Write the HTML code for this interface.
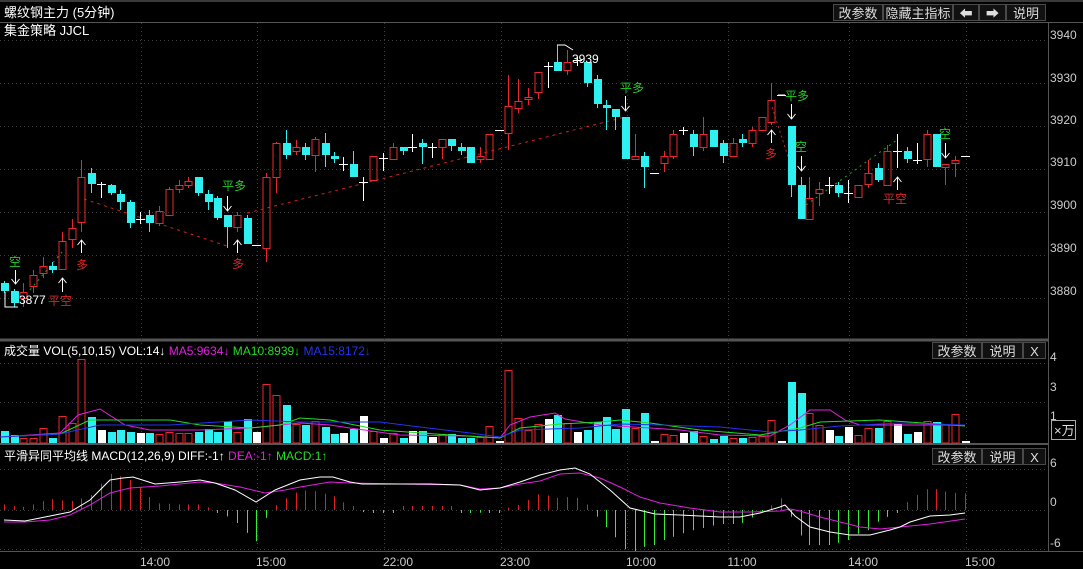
<!DOCTYPE html>
<html><head><meta charset="utf-8">
<style>
html,body{margin:0;padding:0;background:#000;}
body{width:1083px;height:569px;overflow:hidden;position:relative;font-family:"Liberation Sans","Noto Sans CJK SC",sans-serif;}
svg{position:absolute;left:0;top:0;}
.btn{position:absolute;height:17px;line-height:17px;border:1px solid #4a4a4a;background:#111;color:#ddd;font-size:13px;text-align:center;box-sizing:border-box;}
</style></head><body>
<svg id="s" width="1083" height="569" xmlns="http://www.w3.org/2000/svg" font-family="Liberation Sans, Noto Sans CJK SC, sans-serif">
<rect x="0" y="0" width="1083" height="569" fill="#000"/>
<rect x="0" y="0" width="1083" height="2" fill="#3a3a3a"/>
<line x1="0" y1="22.5" x2="1083" y2="22.5" stroke="#555"/>
<line x1="1048.5" y1="22" x2="1048.5" y2="552" stroke="#555"/>
<line x1="0" y1="340" x2="1048" y2="340" stroke="#555" stroke-width="3"/>
<line x1="0" y1="444" x2="1048" y2="444" stroke="#555" stroke-width="2"/>
<line x1="0" y1="551.5" x2="1083" y2="551.5" stroke="#555"/>
<g id="grid" stroke="#3c3c3c" stroke-dasharray="1,3"></g>
<g id="main"></g>
<text x="4" y="17" fill="#fff" font-size="13">螺纹钢主力 (5分钟)</text>
<text x="4" y="35" fill="#fff" font-size="13">集金策略 JJCL</text>
<g fill="#ccc" font-size="12">
<text x="1050" y="39">3940</text><text x="1050" y="82">3930</text><text x="1050" y="124">3920</text>
<text x="1050" y="166">3910</text><text x="1050" y="209">3900</text><text x="1050" y="252">3890</text>
<text x="1050" y="295">3880</text>
<text x="1050" y="361">4</text><text x="1050" y="391">3</text><text x="1050" y="420">1</text>
<text x="1050" y="467">6</text><text x="1050" y="506">0</text><text x="1050" y="547">-6</text>
<text x="155" y="566" text-anchor="middle">14:00</text><text x="271" y="566" text-anchor="middle">15:00</text>
<text x="398" y="566" text-anchor="middle">22:00</text><text x="515" y="566" text-anchor="middle">23:00</text>
<text x="641" y="566" text-anchor="middle">10:00</text><text x="742" y="566" text-anchor="middle">11:00</text>
<text x="863" y="566" text-anchor="middle">14:00</text><text x="980" y="566" text-anchor="middle">15:00</text>
</g>
<rect x="1051.5" y="420.5" width="24" height="19" fill="none" stroke="#aaa"/>
<text x="1054" y="435" fill="#ddd" font-size="13">×万</text>
<text x="4" y="355" font-size="12"><tspan fill="#fff">成交量 VOL(5,10,15) VOL:14↓ </tspan><tspan fill="#e020e0">MA5:9634↓ </tspan><tspan fill="#22dd22">MA10:8939↓ </tspan><tspan fill="#2233ee">MA15:8172↓</tspan></text>
<text x="4" y="460" font-size="12"><tspan fill="#fff">平滑异同平均线 MACD(12,26,9) DIFF:-1↑ </tspan><tspan fill="#e020e0">DEA:-1↑ </tspan><tspan fill="#22dd22">MACD:1↑</tspan></text>
<!-- signal texts -->
<g font-size="12">
<text x="15" y="266" fill="#22cc22" text-anchor="middle">空</text>
<text x="19" y="304" fill="#fff">3877</text>
<text x="60" y="305" fill="#dd2222" text-anchor="middle">平空</text>
<text x="82" y="269" fill="#dd2222" text-anchor="middle">多</text>
<text x="234" y="190" fill="#22cc22" text-anchor="middle">平多</text>
<text x="238" y="268" fill="#dd2222" text-anchor="middle">多</text>
<text x="572" y="63" fill="#fff">3939</text>
<text x="632" y="92" fill="#22cc22" text-anchor="middle">平多</text>
<text x="797" y="100" fill="#22cc22" text-anchor="middle">平多</text>
<text x="771" y="158" fill="#dd2222" text-anchor="middle">多</text>
<text x="801" y="151" fill="#22cc22" text-anchor="middle">空</text>
<text x="895" y="203" fill="#dd2222" text-anchor="middle">平空</text>
<text x="945" y="138" fill="#22cc22" text-anchor="middle">空</text>
</g>
<polyline points="5,292 5,307 18,307" fill="none" stroke="#fff"/>
<polyline points="557,45 565,45 573,50" fill="none" stroke="#fff"/>
<line x1="778" y1="95" x2="785" y2="95" stroke="#fff"/>
<g id="arrows" stroke="#fff" fill="none" stroke-width="1"></g>
</svg>
<div class="btn" style="left:833px;top:4px;width:50px">改参数</div>
<div class="btn" style="left:883px;top:4px;width:70px">隐藏主指标</div>
<div class="btn" style="left:953px;top:4px;width:26px">⬅</div>
<div class="btn" style="left:979px;top:4px;width:27px">➡</div>
<div class="btn" style="left:1006px;top:4px;width:40px">说明</div>
<div class="btn" style="left:932px;top:342px;width:50px">改参数</div>
<div class="btn" style="left:982px;top:342px;width:41px">说明</div>
<div class="btn" style="left:1023px;top:342px;width:23px">X</div>
<div class="btn" style="left:932px;top:448px;width:50px">改参数</div>
<div class="btn" style="left:982px;top:448px;width:41px">说明</div>
<div class="btn" style="left:1023px;top:448px;width:23px">X</div>
<script>
var NS="http://www.w3.org/2000/svg";
function el(p,t,a){var e=document.createElementNS(NS,t);for(var k in a)e.setAttribute(k,a[k]);p.appendChild(e);return e;}
var g=document.getElementById('grid'),m=document.getElementById('main'),ar=document.getElementById('arrows');
[40,83,126,169,212,255,298,363,402,469,510,549].forEach(function(y){el(g,'line',{x1:0,x2:1048,y1:y+.5,y2:y+.5});});
[141,257,384,501,627,728,849,966].forEach(function(x){el(g,'line',{x1:x+.5,x2:x+.5,y1:23,y2:551});});
var C=[[4,'c',283,291,281,293,431],[14,'c',291,303,289,307,435],[23,'r',292,298,283,307,438],[33,'r',275,286,270,293,438],[43,'r',266,273,257,278,428],[52,'c',266,270,262,273,438],[62,'r',241,269,232,270,416],[72,'r',228,239,219,248,423],[81,'r',177,222,160,232,359],[91,'c',173,184,168,193,417],[101,'w',184,184,182,197,430],[111,'c',185,193,184,195,432],[120,'c',194,202,190,210,430],[130,'c',202,223,200,228,432],[140,'w',219,219,212,223,433],[149,'c',215,223,210,232,433],[159,'r',211,223,206,226,434],[169,'r',189,215,187,215,432],[179,'r',185,189,180,193,433],[188,'r',181,185,177,188,433],[198,'c',177,193,177,196,432],[208,'c',194,202,190,210,429],[217,'c',198,218,196,220,432],[227,'c',215,227,215,248,421],[237,'r',215,227,212,232,432],[247,'c',218,244,215,244,419],[256,'w',245,245,245,245,432],[266,'r',177,248,173,262,384],[276,'r',143,177,142,193,395],[286,'c',143,155,130,159,405],[296,'r',147,151,140,155,424],[305,'c',147,155,143,160,425],[315,'r',139,155,137,172,421],[325,'c',143,155,133,167,427],[334,'c',156,159,152,163,434],[343,'w',164,164,157,170,433],[353,'c',164,177,151,177,429],[363,'w',182,182,177,200,416],[373,'r',156,180,156,180,431],[383,'w',158,158,153,170,438],[393,'r',147,159,143,160,433],[403,'c',147,151,147,155,438],[412,'w',147,147,134,151,431],[422,'c',143,147,139,164,431],[432,'w',147,147,143,157,437],[442,'r',139,147,139,159,434],[451,'c',139,146,139,151,434],[461,'c',147,151,143,155,438],[470,'c',147,163,147,163,438],[480,'r',156,159,147,163,437],[489,'r',134,159,134,159,426],[499,'w',130,130,130,130,441],[508,'r',106,133,75,150,370],[518,'r',101,108,79,113,418],[528,'r',97,99,88,105,430],[538,'r',72,92,72,99,424],[548,'w',66,66,62,87,419],[557,'c',62,71,45,71,415],[567,'r',62,70,50,75,423],[577,'w',60,60,57,65,432],[587,'c',62,83,62,87,430],[597,'c',79,104,75,108,422],[606,'c',105,108,100,130,417],[615,'c',109,117,109,130,429],[625,'c',117,159,117,159,409],[635,'r',156,159,134,159,428],[644,'c',156,167,152,188,413],[654,'w',173,173,173,173,441],[664,'r',156,163,151,172,434],[673,'r',134,156,130,159,435],[683,'w',130,130,127,134,433],[693,'c',134,147,130,156,431],[703,'r',134,147,117,151,436],[713,'c',130,147,130,147,439],[723,'c',143,156,140,163,436],[733,'r',143,156,138,157,438],[742,'c',139,143,134,147,438],[752,'r',130,143,127,147,437],[762,'r',117,130,117,130,436],[771,'r',100,122,83,125,420],[781,'w',95,95,95,95,441],[791,'c',126,185,126,197,382],[801,'c',185,219,177,219,393],[809,'r',198,219,177,219,413],[819,'r',189,193,182,206,425],[829,'w',185,185,177,193,430],[838,'c',185,193,182,197,436],[848,'w',193,193,180,202,427],[858,'r',185,197,185,197,435],[868,'r',173,184,160,188,428],[878,'c',168,180,163,182,428],[887,'r',151,185,145,185,421],[897,'w',151,151,134,167,424],[907,'c',151,159,147,163,434],[917,'w',160,160,143,163,432],[927,'r',134,159,130,167,421],[936,'c',134,167,134,167,422],[945,'r',164,167,164,185,424],[955,'r',160,163,156,177,414],[965,'w',156,156,156,156,441]];
var RED='#e8282c',CY='#2ef0f0';
// dashed signal lines
el(m,'polyline',{points:'84,199 227,246',fill:'none',stroke:'#d02020','stroke-dasharray':'3,4'});
el(m,'polyline',{points:'247,213 330,192 625,117',fill:'none',stroke:'#d02020','stroke-dasharray':'3,4'});
el(m,'polyline',{points:'772,107 791,166',fill:'none',stroke:'#d02020','stroke-dasharray':'2,3'});
el(m,'polyline',{points:'30,290 62,252',fill:'none',stroke:'#22aa22','stroke-dasharray':'2,4'});
el(m,'polyline',{points:'806,205 897,140',fill:'none',stroke:'#22aa22','stroke-dasharray':'2,4'});
C.forEach(function(c){var x=c[0],t=c[1];
 var col=t=='r'?RED:(t=='c'?CY:'#fff');
 if(t=='w'){el(m,'line',{x1:x+.5,x2:x+.5,y1:c[4],y2:c[5]+1,stroke:col});el(m,'line',{x1:x-4,x2:x+5,y1:c[2]+.5,y2:c[2]+.5,stroke:col});}
 else if(t=='c'){el(m,'line',{x1:x+.5,x2:x+.5,y1:c[4],y2:c[5],stroke:col});el(m,'rect',{x:x-3,y:c[2],width:8,height:Math.max(2,c[3]-c[2]),fill:col});}
 else{el(m,'line',{x1:x+.5,x2:x+.5,y1:c[4],y2:c[2],stroke:col});el(m,'line',{x1:x+.5,x2:x+.5,y1:c[3],y2:c[5],stroke:col});el(m,'rect',{x:x-3,y:c[2]+.5,width:7,height:Math.max(1,c[3]-c[2]),fill:'none',stroke:col});}
 // volume
 var vt=c[6],h=443-vt;
 if(t=='r')el(m,'rect',{x:x-3,y:vt+.5,width:7,height:h-.5,fill:'none',stroke:RED});
 else el(m,'rect',{x:x-3,y:vt,width:8,height:h,fill:col});
});
function pl(pts,col){el(m,'polyline',{points:pts,fill:'none',stroke:col});}
pl('0,437 60,433 78,415 100,409 125,425 150,430 200,430 250,428 300,423 330,425 350,428 400,435 470,436 500,438 510,425 530,417 555,413 565,419 600,425 650,428 680,430 720,435 770,436 790,425 810,410 830,410 845,420 860,425 900,425 965,425','#e020e0');
pl('0,437 60,434 90,420 170,420 200,425 250,428 280,425 300,418 330,420 380,430 450,435 500,438 520,428 560,424 600,422 620,420 650,423 700,430 760,435 800,428 820,422 880,420 965,426','#22dd22');
pl('0,437 60,434 100,425 170,425 250,420 300,422 380,422 420,427 470,433 500,437 520,430 580,428 620,424 660,425 720,427 770,432 800,430 840,426 900,423 965,425','#2233ee');
var DIF=[[4,520],[25,521],[50,516],[70,512],[90,500],[110,480],[123,478],[133,477],[155,484],[180,482],[200,480],[215,483],[235,490],[256,502],[275,490],[300,480],[320,477],[333,477],[350,482],[362,484],[390,484],[430,484],[460,485],[480,490],[500,488],[520,482],[540,475],[560,470],[575,468],[590,474],[610,490],[630,508],[655,514],[680,515],[700,516],[720,517],[740,517],[760,513],[780,507],[785,505],[795,516],[810,527],[830,532],[850,535],[870,535],[890,530],[900,527],[910,522],[930,516],[950,515],[965,513]];
var DEA=[[4,522],[25,522],[50,520],[70,515],[90,505],[110,493],[130,488],[160,486],[200,482],[215,483],[240,487],[265,493],[285,490],[300,487],[330,482],[350,483],[400,484],[460,485],[480,489],[500,488],[520,484],[540,481],[560,474],[580,473],[600,478],[620,487],[640,497],[660,503],[690,508],[720,512],[750,512],[780,511],[790,509],[800,511],[820,517],[840,522],[860,527],[880,529],[900,527],[930,524],[965,519]];
function ip(a,x){for(var i=0;i<a.length-1;i++){if(x<=a[i+1][0]){var t=(x-a[i][0])/(a[i+1][0]-a[i][0]);return a[i][1]+t*(a[i+1][1]-a[i][1]);}}return a[a.length-1][1];}
C.forEach(function(c){var x=c[0];var d=ip(DEA,x)-ip(DIF,x);var h=d*2.8;if(Math.abs(h)<2)h=h>=0?4:-3;
 var col=h>0?'#e02020':'#33ee33';el(m,'line',{x1:x+.5,x2:x+.5,y1:510,y2:510-h,stroke:col});});
pl(DEA.map(function(p){return p.join(',');}).join(' '),'#e020e0');
pl(DIF.map(function(p){return p.join(',');}).join(' '),'#fff');
function arrow(x,y1,y2){el(ar,'line',{x1:x+.5,x2:x+.5,y1:y1,y2:y2});var d=y2>y1?-5:5;el(ar,'polyline',{points:(x-3.5)+','+(y2+d)+' '+(x+.5)+','+y2+' '+(x+4.5)+','+(y2+d)});}
arrow(15,270,284);arrow(62,292,278);arrow(81,253,240);arrow(227,196,211);arrow(237,253,240);arrow(625,96,111);arrow(791,104,119);arrow(771,143,130);arrow(801,156,171);arrow(897,190,177);arrow(945,143,158);
</script>
</body></html>
